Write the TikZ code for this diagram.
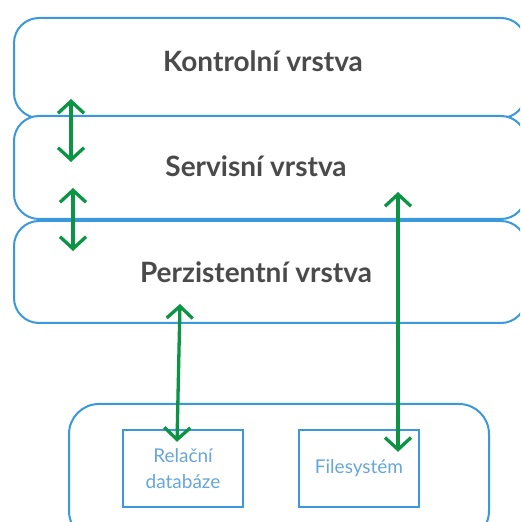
\documentclass[tikz,border=0pt]{standalone}
\usepackage{fontspec}
\setmainfont{Lato}
\usepackage{tikz}
\usetikzlibrary{arrows.meta,positioning,calc}
\definecolor{LyBlue}{HTML}{3A98DC}
\definecolor{LyText}{HTML}{4A4A4A}
\definecolor{LyLabel}{HTML}{66A6DA}
\definecolor{LyGreen}{HTML}{0A9444}
\tikzset{
  layerbox/.style={rounded corners=25pt, draw=LyBlue, line width=2pt, fill=white,
    minimum width=512pt, anchor=north west},
  layertext/.style={text=LyText, font=\bfseries\fontsize{28}{32}\selectfont},
  storeframe/.style={rounded corners=30pt, draw=LyBlue, line width=2pt,
    minimum width=420pt, minimum height=137pt, anchor=north west},
  storebox/.style={draw=LyBlue, line width=2.4pt, minimum width=120pt,
    minimum height=77pt, align=center, text=LyLabel,
    font=\fontsize{19}{26}\selectfont},
  flowarrow/.style={{Straight Barb[length=12pt,width=26pt]}-{Straight Barb[length=12pt,width=26pt]},
    line width=3.3pt, draw=LyGreen}
}
\begin{document}
\begin{tikzpicture}[x=1pt, y=1pt]
  \useasboundingbox (0,0) rectangle (520,522);
  \clip (0,0) rectangle (520,522);

  % layers, drawn top down so each one covers the one above
  \node[layerbox, minimum height=100pt] (kontrol) at (13,505) {};
  \node[layertext] (kontroltxt) at (263,461) {Kontrolní vrstva};
  \node[layerbox, minimum height=103pt] (servis) at (13,407) {};
  \node[layertext] (servistxt) at (256,356) {Servisní vrstva};
  \node[layerbox, minimum height=102pt] (persist) at (13,302) {};
  \node[layertext] (persisttxt) at (256,250) {Perzistentní vrstva};

  % storage
  \node[storeframe] (store) at (68,119) {};
  \node[storebox] (db) at (183,53.5) {Relační\\databáze};
  \node[storebox] (fs) at (359,53.5) {Filesystém};

  \draw[flowarrow] ($(kontrol.south west)+(58,20)$) -- ($(servis.north west)+(58,-47)$);
  \draw[flowarrow] ($(servis.south west)+(60,32)$) -- ($(persist.north west)+(60,-31)$);
  \draw[flowarrow] ($(persist.south west)+(167,20)$) -- ($(db.north)+(-6,-13)$);
  \draw[flowarrow] ($(servis.south west)+(385,28)$) -- ($(fs.north)+(39,-23)$);
\end{tikzpicture}
\end{document}
